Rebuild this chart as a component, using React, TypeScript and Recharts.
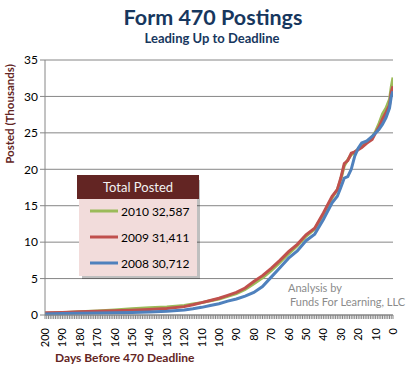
import React from 'react';
import { LineChart, Line, XAxis, YAxis, CartesianGrid } from 'recharts';

const days = [200, 190, 180, 170, 160, 150, 140, 130, 120, 115, 110, 105, 100, 95, 90, 85, 80, 75, 70, 65, 60, 55, 50, 45, 40, 35, 32, 30, 28, 26, 24, 22, 20, 18, 15, 12, 10, 8, 6, 4, 2, 1, 0];
const posted2010 = [0.2, 0.3, 0.45, 0.55, 0.7, 0.85, 1.0, 1.1, 1.3, 1.5, 1.7, 1.95, 2.2, 2.55, 2.95, 3.5, 4.3, 5.1, 6.1, 7.2, 8.4, 9.5, 10.8, 11.8, 13.8, 16.1, 17.2, 18.6, 20.5, 21.3, 22.0, 22.3, 22.8, 23.1, 23.8, 24.4, 25.2, 26.3, 27.6, 28.4, 29.6, 31.3, 32.587];
const posted2009 = [0.3, 0.35, 0.45, 0.5, 0.6, 0.65, 0.75, 0.9, 1.15, 1.4, 1.7, 2.0, 2.3, 2.7, 3.1, 3.7, 4.6, 5.4, 6.4, 7.5, 8.7, 9.7, 11.0, 11.9, 14.0, 16.3, 17.2, 18.8, 20.8, 21.2, 22.2, 22.4, 22.7, 23.0, 23.6, 24.1, 25.0, 25.8, 26.9, 27.8, 28.8, 30.6, 31.411];
const posted2008 = [0.15, 0.2, 0.25, 0.28, 0.3, 0.35, 0.4, 0.5, 0.7, 0.85, 1.05, 1.3, 1.55, 1.9, 2.2, 2.6, 3.1, 3.9, 5.2, 6.5, 7.8, 8.8, 10.2, 11.1, 13.1, 15.4, 16.3, 17.5, 18.8, 19.0, 20.0, 21.8, 22.9, 23.6, 23.9, 24.5, 25.0, 25.5, 26.2, 27.1, 28.4, 30.0, 30.712];

const seriesKeys = ['y2010', 'y2009', 'y2008'];
const seriesNames = ['2010', '2009', '2008'];
const seriesTotals = ['32,587', '31,411', '30,712'];
const seriesColors = ['#9BBB59', '#C0504D', '#4F81BD'];
const yTicks = [0, 5, 10, 15, 20, 25, 30, 35];
const xLabelTicks = [200, 190, 180, 170, 160, 150, 140, 130, 120, 110, 100, 90, 80, 70, 60, 50, 40, 30, 20, 10, 0];
const dayMarks = Array.from({ length: 201 }, (_, i) => i);

const data = days.map((d, i) => ({ day: d, y2010: posted2010[i], y2009: posted2009[i], y2008: posted2008[i] }));

const FONT = 'Lato, "Open Sans", sans-serif';
const AXIS_COLOR = '#868686';
const DARK_RED = '#632523';

const XTick = (props: any) => {
  const { x, y, payload } = props;
  const v = payload.value;
  if (!xLabelTicks.includes(v)) return <g />;
  const ty = y + 7;
  return (
    <text
      x={x}
      y={ty}
      transform={`rotate(-90, ${x}, ${ty})`}
      textAnchor="end"
      dy="0.36em"
      fontSize={11}
      fill="#000"
      fontFamily={FONT}
    >
      {v}
    </text>
  );
};

export default function App() {
  const legendRows = [0, 1, 2];
  return (
    <div style={{ position: 'absolute', left: 0, top: 0, width: 418, height: 375, background: '#fff', fontFamily: FONT }}>
      <LineChart width={418} height={375} data={data} margin={{ top: 60, right: 25, bottom: 0, left: 5 }}>
        <CartesianGrid vertical={false} stroke={AXIS_COLOR} strokeWidth={1} />
        <XAxis
          dataKey="day"
          type="number"
          domain={[0, 200]}
          reversed
          ticks={dayMarks}
          interval={0}
          tick={<XTick />}
          tickSize={4}
          stroke={AXIS_COLOR}
          height={60}
          allowDataOverflow
        />
        <YAxis
          domain={[0, 35]}
          ticks={yTicks}
          interval={0}
          width={40}
          tickSize={5}
          stroke={AXIS_COLOR}
          tick={{ fontSize: 12, fill: '#000', fontFamily: FONT }}
        />
        {seriesKeys.map((k, i) => (
          <Line
            key={k}
            dataKey={k}
            type="linear"
            stroke={seriesColors[i]}
            strokeWidth={3}
            dot={false}
            isAnimationActive={false}
          />
        ))}
      </LineChart>
      <svg width={418} height={375} style={{ position: 'absolute', left: 0, top: 0, pointerEvents: 'none' }}>
        <text x={213} y={25} textAnchor="middle" fontSize={21.5} fontWeight="bold" fill="#17375E" fontFamily={FONT}>
          Form 470 Postings
        </text>
        <text x={212} y={43} textAnchor="middle" fontSize={13} fontWeight="bold" fill="#17375E" fontFamily={FONT}>
          Leading Up to Deadline
        </text>
        <text
          x={14}
          y={114}
          transform="rotate(-90, 14, 114)"
          textAnchor="middle"
          fontSize={11.5}
          fontWeight="bold"
          fill={DARK_RED}
          fontFamily={FONT}
        >
          Posted (Thousands)
        </text>
        <text x={55} y={362} fontSize={12} fontWeight="bold" fill={DARK_RED} fontFamily={FONT}>
          Days Before 470 Deadline
        </text>
        <text x={288} y={292} fontSize={11} fill="#8B8B8B" fontFamily={FONT}>
          Analysis by
        </text>
        <text x={290} y={306} fontSize={11} fill="#8B8B8B" fontFamily={FONT}>
          Funds For Learning, LLC
        </text>
        <rect x={82} y={180} width={118} height={99} fill="#000" opacity={0.25} />
        <rect x={79} y={199} width={118} height={77} fill="#F2DCDB" />
        <rect x={77} y={175} width={122} height={24} fill={DARK_RED} />
        <text x={138} y={192} textAnchor="middle" fontSize={13} fill="#F2F2F2" fontFamily={FONT}>
          Total Posted
        </text>
        {legendRows.map((i) => {
          const cy = 211 + i * 26;
          return (
            <g key={i}>
              <line x1={90} x2={118} y1={cy} y2={cy} stroke={seriesColors[i]} strokeWidth={3} />
              <text x={121} y={cy + 4.5} fontSize={12} fill="#000" fontFamily={FONT}>
                {`${seriesNames[i]} ${seriesTotals[i]}`}
              </text>
            </g>
          );
        })}
      </svg>
    </div>
  );
}
